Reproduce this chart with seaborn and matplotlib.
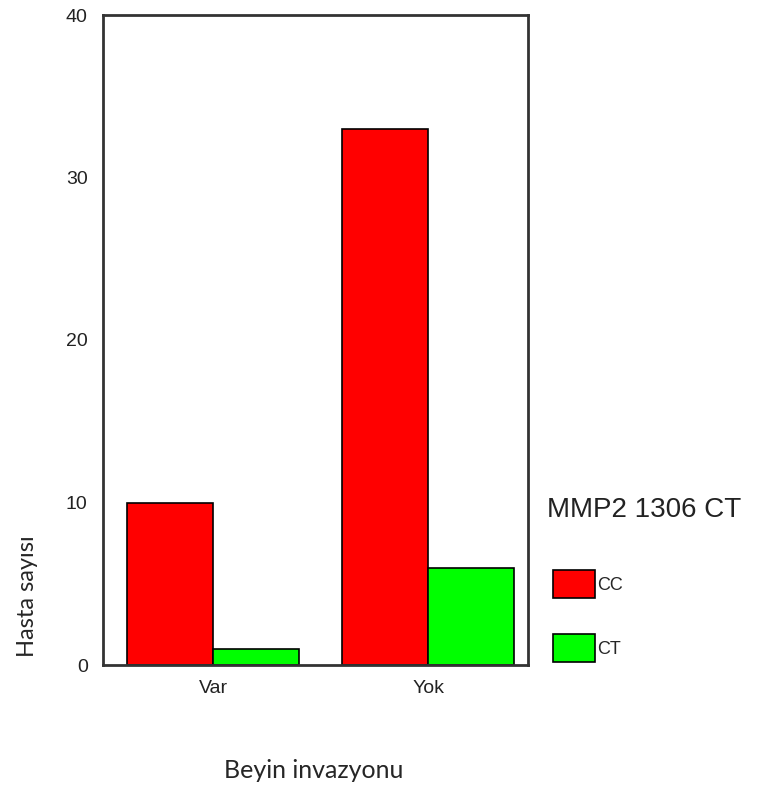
import pandas as pd
import matplotlib
matplotlib.use("Agg")
import matplotlib.pyplot as plt
import seaborn as sns

groups = ["Var", "Yok"]
genotypes = ["CC", "CT"]
cc_counts = [10, 33]
ct_counts = [1, 6]
colors = {"CC": "#ff0000", "CT": "#00ff00"}

df = pd.DataFrame({
    "Beyin invazyonu": groups * 2,
    "MMP2 1306 CT": ["CC"] * len(groups) + ["CT"] * len(groups),
    "Hasta sayisi": cc_counts + ct_counts,
})

sns.set_style("white")
plt.rcParams["font.family"] = ["Liberation Sans", "DejaVu Sans"]

fig = plt.figure(figsize=(7.57, 8.07), dpi=100)
ax = fig.add_axes([103 / 757, 1 - 665 / 807, 425 / 757, 650 / 807])

sns.barplot(data=df, x="Beyin invazyonu", y="Hasta sayisi", hue="MMP2 1306 CT",
            hue_order=genotypes, order=groups, palette=colors, width=0.8,
            edgecolor="black", linewidth=1.2, saturation=1, ax=ax)

ax.set_ylim(0, 40)
ax.set_xlim(-0.512, 1.465)
ax.set_yticks([0, 10, 20, 30, 40])
ax.set_xlabel("")
ax.set_ylabel("")
for s in ax.spines.values():
    s.set_visible(True)
    s.set_color("#333333")
    s.set_linewidth(2)
ax.tick_params(axis="both", direction="out", length=3, width=3, color="black",
               labelsize=14, labelcolor="#222222")
ax.tick_params(axis="y", pad=8)
ax.tick_params(axis="x", pad=8)

handles, labels = ax.get_legend_handles_labels()
ax.get_legend().remove()
fig.legend(handles, labels, loc="upper left", bbox_to_anchor=(553 / 757, 1 - 570 / 807),
           frameon=False, fontsize=13, handlelength=2.33, handleheight=2.0,
           handletextpad=0.1, labelspacing=2.0, borderpad=0, borderaxespad=0)

fig.text(547 / 757, 1 - 510 / 807, "MMP2 1306 CT", fontsize=20, va="center",
         ha="left", color="#222222")
fig.text(27 / 757, 1 - 596 / 807, "Hasta sayısı", rotation=90, fontsize=17,
         family=["Lato", "DejaVu Sans"], ha="center", va="center")
fig.text(314 / 757, 1 - 770 / 807, "Beyin invazyonu", fontsize=18,
         family=["Lato", "DejaVu Sans"], ha="center", va="center")

fig.savefig("out.png", dpi=100)
